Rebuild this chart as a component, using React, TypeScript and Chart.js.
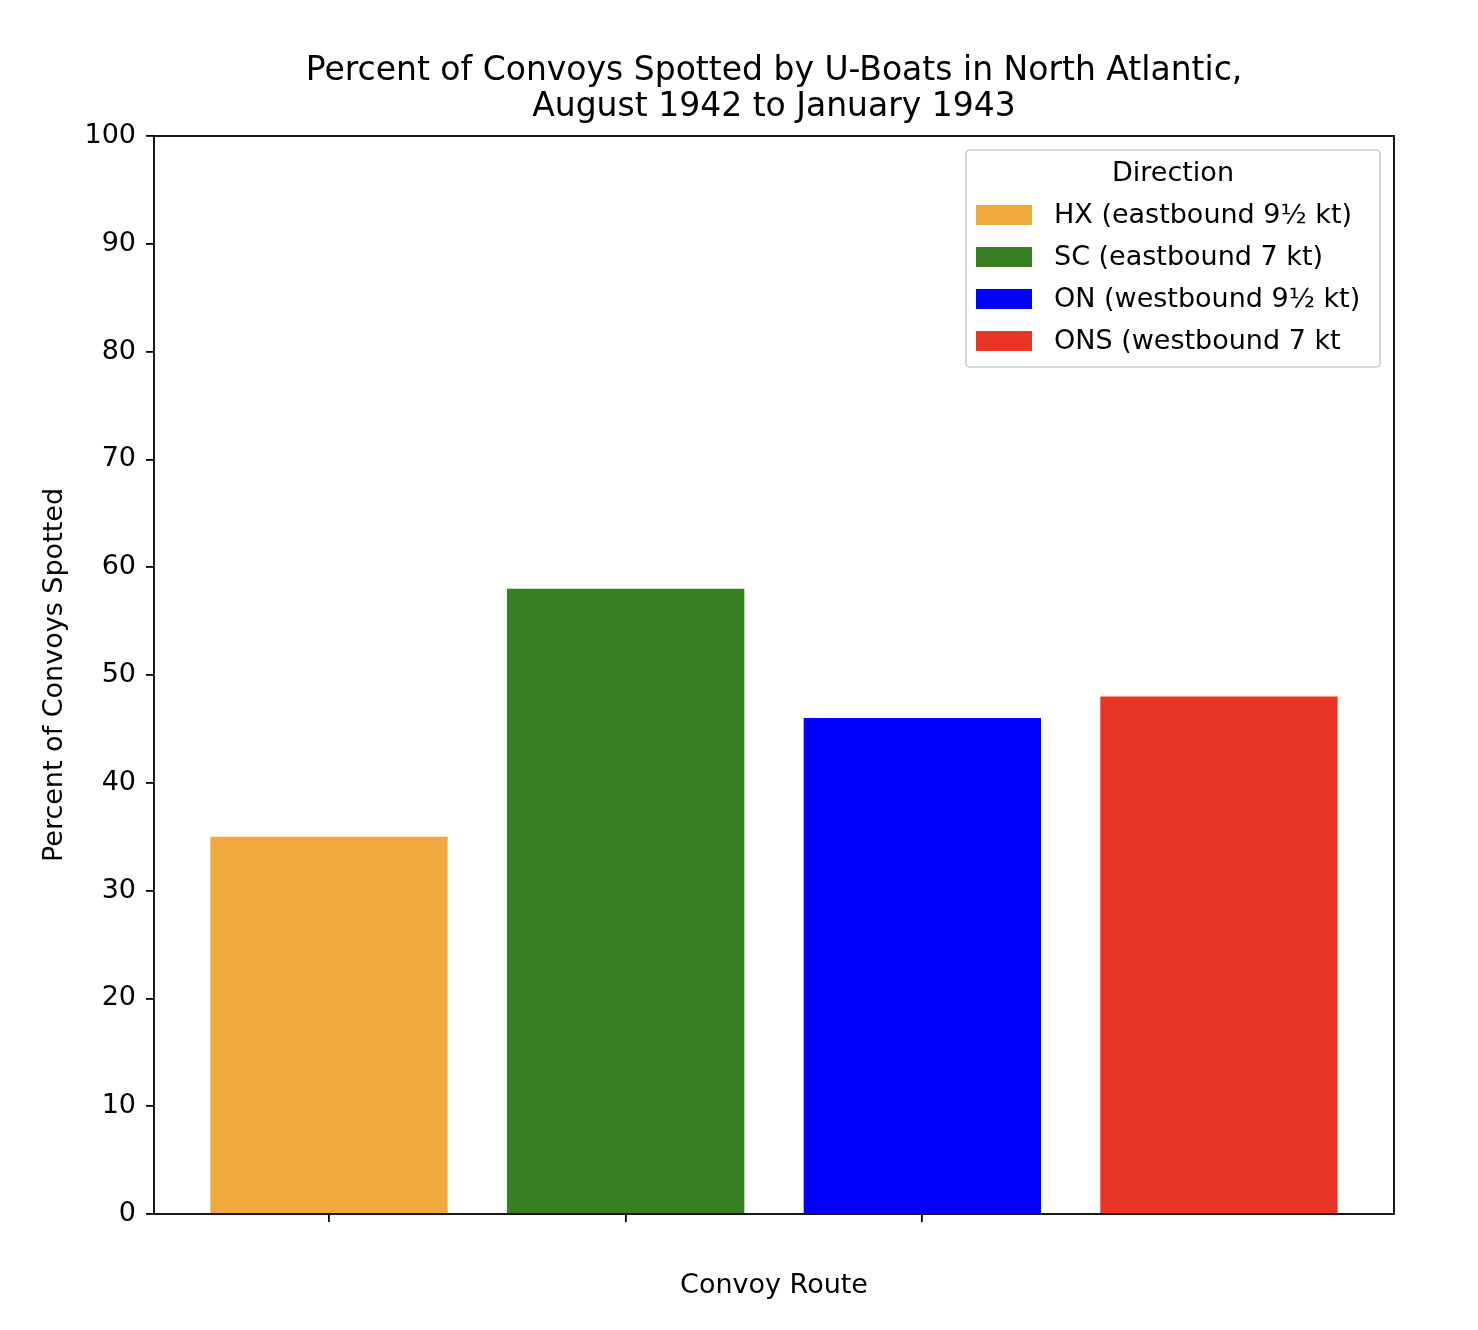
import React, { useEffect, useRef } from "react";
import { Chart, registerables } from "chart.js";
Chart.register(...registerables);

const routes = ["HX (eastbound 9½ kt)", "SC (eastbound 7 kt)", "ON (westbound 9½ kt)", "ONS (westbound 7 kt"];
const positions = [0, 1, 2, 3];
const values = [35, 58, 46, 48];
const colors = ["#F0A93C", "#387E22", "#0000FF", "#E83526"];
const xTickPositions = [0, 1, 2];
const titleLines = ["Percent of Convoys Spotted by U-Boats in North Atlantic,", "August 1942 to January 1943"];
const FONT = "'DejaVu Sans', sans-serif";

const overlay = {
  id: "overlay",
  afterDraw(chart: any) {
    const { ctx, chartArea: a } = chart;
    ctx.save();
    ctx.strokeStyle = "#000";
    ctx.lineWidth = 1.8;
    ctx.strokeRect(a.left, a.top, a.right - a.left, a.bottom - a.top);
    ctx.fillStyle = "#000";
    ctx.textAlign = "center";
    ctx.textBaseline = "middle";
    const cx = (a.left + a.right) / 2;
    ctx.font = `33px ${FONT}`;
    ctx.fillText(titleLines[0], cx, 71);
    ctx.fillText(titleLines[1], cx, 107);
    ctx.font = `27px ${FONT}`;
    ctx.fillText("Convoy Route", cx, 1286);
    ctx.save();
    ctx.translate(55, (a.top + a.bottom) / 2);
    ctx.rotate(-Math.PI / 2);
    ctx.fillText("Percent of Convoys Spotted", 0, 0);
    ctx.restore();
    // legend
    const w = 414, h = 217;
    const lx = a.right - 14 - w, ly = a.top + 14;
    ctx.fillStyle = "rgba(255,255,255,0.8)";
    ctx.strokeStyle = "#cccccc";
    ctx.lineWidth = 1.6;
    ctx.beginPath();
    (ctx as any).roundRect(lx, ly, w, h, 4);
    ctx.fill();
    ctx.stroke();
    ctx.fillStyle = "#000";
    ctx.fillText("Direction", lx + w / 2, ly + 24);
    ctx.textAlign = "left";
    routes.forEach((r, i) => {
      const y = ly + 65 + i * 42;
      ctx.fillStyle = colors[i];
      ctx.fillRect(lx + 10, y - 10, 56, 20);
      ctx.fillStyle = "#000";
      ctx.fillText(r, lx + 88, y + 1);
    });
    ctx.restore();
  },
};

export default function App() {
  const ref = useRef<HTMLCanvasElement>(null);
  useEffect(() => {
    const chart = new Chart(ref.current!, {
      type: "bar",
      data: {
        datasets: routes.map((r, i) => ({
          label: r,
          data: [{ x: positions[i], y: values[i] }],
          backgroundColor: colors[i],
          barPercentage: 0.8,
          categoryPercentage: 1,
          grouped: false,
        })),
      },
      plugins: [overlay],
      options: {
        animation: false,
        responsive: false,
        layout: { padding: { top: 136, right: 84, left: 0, bottom: 0 } },
        plugins: { legend: { display: false }, tooltip: { enabled: false } },
        scales: {
          x: {
            type: "linear",
            min: -0.59,
            max: 3.59,
            offset: false,
            bounds: "ticks",
            afterDataLimits: (s: any) => { s.min = -0.59; s.max = 3.59; },
            afterBuildTicks: (s: any) => { s.ticks = xTickPositions.map((v) => ({ value: v })); },
            afterFit: (s: any) => { s.height = 116; },
            ticks: { callback: () => "" },
            grid: { display: true, drawOnChartArea: false, offset: false, tickLength: 8, color: "#000", lineWidth: 1.8 },
            border: { display: false },
          },
          y: {
            min: 0,
            max: 100,
            afterFit: (s: any) => { s.width = 154; },
            ticks: { stepSize: 10, padding: 10, color: "#000", font: { size: 27, family: FONT } },
            grid: { display: true, drawOnChartArea: false, tickLength: 8, color: "#000", lineWidth: 1.8 },
            border: { display: false },
          },
        },
      },
    } as any);
    return () => chart.destroy();
  }, []);
  return (
    <div style={{ position: "absolute", left: 0, top: 0, background: "#fff" }}>
      <canvas ref={ref} width={1478} height={1330} style={{ width: 1478, height: 1330 }} />
    </div>
  );
}
